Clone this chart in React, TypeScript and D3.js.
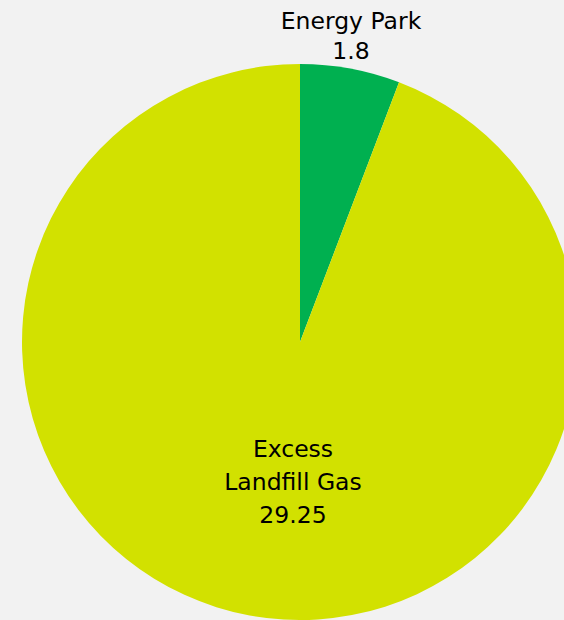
import React from "react";
import * as d3 from "d3";

const categories = ["Energy Park", "Excess Landfill Gas"];
const values = [1.8, 29.25];
const colors = ["#00b050", "#d2e100"];

export default function App() {
  const W = 564, H = 620;
  const cx = 300, cy = 342, r = 278;
  const pie = d3.pie<number>().sort(null).value((d) => d);
  const arcs = pie(values);
  const arc = d3.arc<d3.PieArcDatum<number>>().innerRadius(0).outerRadius(r);
  const font = "Tahoma, 'DejaVu Sans', Verdana, sans-serif";
  const fs = 23.5;
  return (
    <div style={{ position: "fixed", left: 0, top: 0, width: W, height: H, background: "#f2f2f2" }}>
      <svg width={W} height={H} style={{ display: "block" }}>
        <rect width={W} height={H} fill="#f2f2f2" />
        <g transform={`translate(${cx},${cy})`}>
          {arcs.map((a, i) => (
            <path key={i} d={arc(a) || ""} fill={colors[i]} />
          ))}
        </g>
        <text x={351} y={29} textAnchor="middle" fontFamily={font} fontSize={fs} fill="#000">
          {categories[0]}
        </text>
        <text x={351} y={59} textAnchor="middle" fontFamily={font} fontSize={fs} fill="#000">
          {String(values[0])}
        </text>
        <text x={293} y={457} textAnchor="middle" fontFamily={font} fontSize={fs} fill="#000">
          Excess
        </text>
        <text x={293} y={490} textAnchor="middle" fontFamily={font} fontSize={fs} fill="#000">
          Landfill Gas
        </text>
        <text x={293} y={523} textAnchor="middle" fontFamily={font} fontSize={fs} fill="#000">
          {String(values[1])}
        </text>
      </svg>
    </div>
  );
}
